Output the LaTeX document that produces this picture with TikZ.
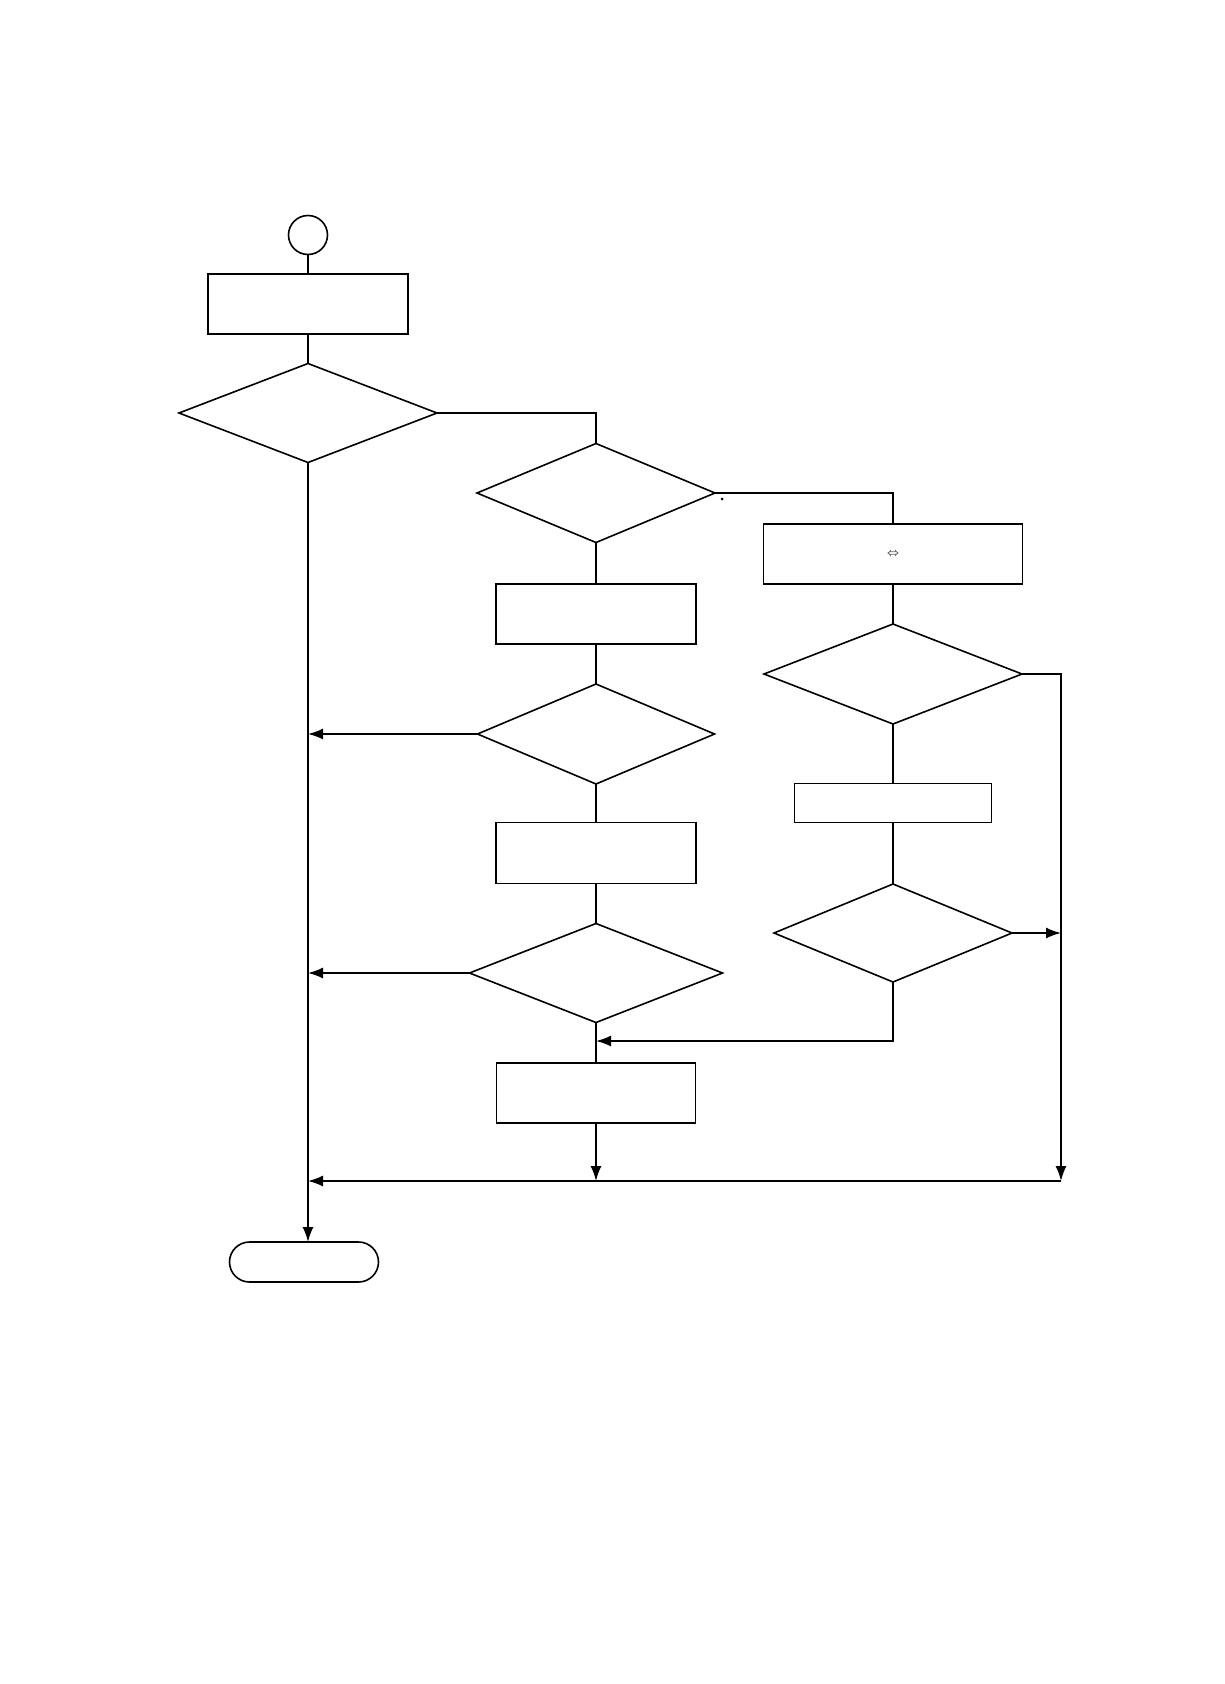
\documentclass[tikz,border=0pt]{standalone}
\usetikzlibrary{shapes.geometric,arrows.meta}
\begin{document}
\begin{tikzpicture}[x=1pt,y=-1pt,line width=1.6pt,
  box/.style={draw,rectangle,inner sep=0pt,outer sep=0pt},
  dia/.style={draw,diamond,inner sep=0pt,outer sep=0pt,aspect=1},
  arr/.style={-{Latex[length=15pt,width=11pt]}}]
\useasboundingbox (0,0) rectangle (1224,1684);
\fill[white] (0,0) rectangle (1224,1684);
% main column
\node[draw,circle,inner sep=0pt,outer sep=0pt,minimum size=39pt] (start) at (308,235) {};
\node[box,minimum width=200pt,minimum height=60pt] (b1) at (308,304) {};
\node[dia,minimum width=258pt,minimum height=99pt] (d1) at (308,413) {};
\node[draw,rounded corners=20pt,rectangle,inner sep=0pt,outer sep=0pt,minimum width=149pt,minimum height=40pt] (term) at (304,1262) {};
% middle column
\node[dia,minimum width=238pt,minimum height=99pt] (d2) at (596,493) {};
\node[box,minimum width=200pt,minimum height=60pt] (m1) at (596,614) {};
\node[dia,minimum width=237pt,minimum height=100pt] (d3) at (596,734) {};
\node[box,minimum width=200pt,minimum height=61pt] (m2) at (596,853) {};
\node[dia,minimum width=253pt,minimum height=99pt] (d4) at (596,973) {};
\node[box,minimum width=199pt,minimum height=60pt] (m3) at (596,1093) {};
% right column
\node[box,minimum width=259pt,minimum height=60pt] (r1) at (893,554) {\large$\Leftrightarrow$};
\node[dia,minimum width=258pt,minimum height=100pt] (r2) at (893,674) {};
\node[box,minimum width=197pt,minimum height=39pt] (r3) at (893,803) {};
\node[dia,minimum width=238pt,minimum height=98pt] (r4) at (893,933) {};
% helper coordinates
\coordinate (rtop) at (1061,674);
\coordinate (rmid) at (1061,933);
\coordinate (rbot) at (1061,1181);
\coordinate (mainbot) at (308,1181);
\coordinate (junc) at (596,1041);
\coordinate (m3bot) at (596,1181);
% dot
\fill (722,499) circle (1.5pt);
% connectors main column
\draw (start) -- (b1);
\draw (b1) -- (d1);
\draw[arr] (d1.south) -- (d1.south |- term.north);
% to middle
\draw (d1.east) -| (d2.north);
\draw (d2.south) -- (m1.north);
\draw (m1.south) -- (d3.north);
\draw[arr] (d3.west) -- (d1.south |- d3.west);
\draw (d3.south) -- (m2.north);
\draw (m2.south) -- (d4.north);
\draw[arr] (d4.west) -- (d1.south |- d4.west);
\draw (d4.south) -- (m3.north);
\draw[arr] (m3.south) -- (m3bot);
% to right
\draw (d2.east) -| (r1.north);
\draw (r1.south) -- (r2.north);
\draw (r2.south) -- (r3.north);
\draw (r3.south) -- (r4.north);
\draw[arr] (r2.east) -- (rtop) -- (rbot);
\draw[arr] (r4.east) -- (rmid);
\draw[arr] (r4.south) |- (junc);
\draw[arr] (rbot) -- (mainbot);
\end{tikzpicture}
\end{document}
